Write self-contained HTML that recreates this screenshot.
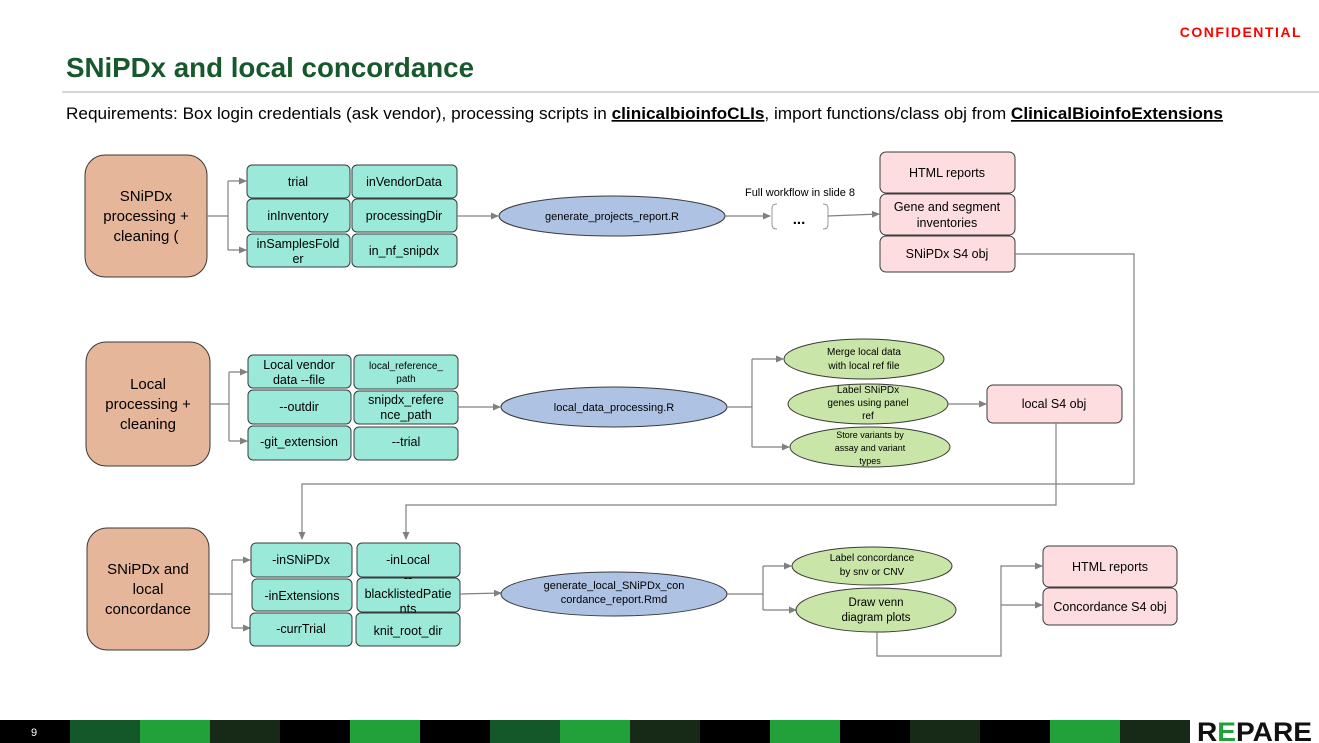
<!DOCTYPE html>
<html><head><meta charset="utf-8"><style>
html,body{margin:0;padding:0;background:#fff;}
svg{display:block;}
text{font-family:"Liberation Sans",sans-serif;fill:#000;}
.sm{font-size:12.5px;}
.xs{font-size:10px;}
.bx{fill:#9be9d9;stroke:#3a3a3a;stroke-width:1;}
.pk{fill:#fddde0;stroke:#3a3a3a;stroke-width:1;}
.bg{fill:#e5b69a;stroke:#3a3a3a;stroke-width:1;}
.el{fill:#aec3e3;stroke:#3a3a3a;stroke-width:1;}
.ge{fill:#c9e5a7;stroke:#3a3a3a;stroke-width:1;}
.ln{fill:none;stroke:#808080;stroke-width:1.2;}
</style></head><body>
<svg width="1319" height="743" viewBox="0 0 1319 743" xmlns="http://www.w3.org/2000/svg">
<defs><marker id="a" markerWidth="8" markerHeight="8" refX="7" refY="4" orient="auto" markerUnits="userSpaceOnUse"><path d="M0,0.5 L8,4 L0,7.5 z" fill="#808080"/></marker></defs>
<text x="1302" y="37" text-anchor="end" style="font-size:14px;font-weight:bold;fill:#ff0000;letter-spacing:1.5px">CONFIDENTIAL</text>
<text x="66" y="77" textLength="408" lengthAdjust="spacingAndGlyphs" style="font-size:28px;font-weight:bold;fill:#17582c">SNiPDx and local concordance</text>
<line x1="62" y1="92" x2="1319" y2="92" stroke="#c0c0c0" stroke-width="1.2"/>
<text x="66" y="119" textLength="1157" lengthAdjust="spacingAndGlyphs" style="font-size:17px">Requirements: Box login credentials (ask vendor), processing scripts in <tspan font-weight="bold" text-decoration="underline">clinicalbioinfoCLIs</tspan>,  import functions/class obj from <tspan font-weight="bold" text-decoration="underline">ClinicalBioinfoExtensions</tspan></text>

<!-- ROW 1 -->
<rect class="bg" x="85" y="155" width="122" height="122" rx="20"/>
<text class="" x="146" y="201" text-anchor="middle" style="font-size:15px">SNiPDx</text>
<text x="146" y="221" text-anchor="middle" style="font-size:15px">processing +</text>
<text x="146" y="241" text-anchor="middle" style="font-size:15px">cleaning (</text>
<path class="ln" d="M207,216 H228 M228,181 V250"/>
<path class="ln" d="M228,181 H246" marker-end="url(#a)"/>
<path class="ln" d="M228,250 H246" marker-end="url(#a)"/>
<rect class="bx" x="247" y="165" width="103" height="33" rx="5"/><text class="sm" x="298" y="186" text-anchor="middle">trial</text>
<rect class="bx" x="352" y="165" width="105" height="33" rx="5"/><text class="sm" x="404" y="186" text-anchor="middle">inVendorData</text>
<rect class="bx" x="247" y="199" width="103" height="33" rx="5"/><text class="sm" x="298" y="220" text-anchor="middle">inInventory</text>
<rect class="bx" x="352" y="199" width="105" height="33" rx="5"/><text class="sm" x="404" y="220" text-anchor="middle">processingDir</text>
<rect class="bx" x="247" y="234" width="103" height="33" rx="5"/><text class="sm" x="298" y="248" text-anchor="middle">inSamplesFold</text><text class="sm" x="298" y="263" text-anchor="middle">er</text>
<rect class="bx" x="352" y="234" width="105" height="33" rx="5"/><text class="sm" x="404" y="255" text-anchor="middle">in_nf_snipdx</text>
<path class="ln" d="M457,216 H498" marker-end="url(#a)"/>
<ellipse class="el" cx="612" cy="216" rx="113" ry="20"/>
<text class="xs" x="612" y="220" text-anchor="middle" style="font-size:11px">generate_projects_report.R</text>
<path class="ln" d="M725,216 H770" marker-end="url(#a)"/>
<text x="800" y="196" text-anchor="middle" style="font-size:11px">Full workflow in slide 8</text>
<path d="M777,204 Q772,204 772,208 V225 Q772,229 777,229 M823,204 Q828,204 828,208 V225 Q828,229 823,229" fill="none" stroke="#999" stroke-width="1"/>
<text x="799" y="224" text-anchor="middle" style="font-size:15px;font-weight:bold">...</text>
<path class="ln" d="M828,216 L879,214" marker-end="url(#a)"/>
<rect class="pk" x="880" y="152" width="135" height="41" rx="6"/><text class="sm" x="947" y="177" text-anchor="middle">HTML reports</text>
<rect class="pk" x="880" y="194" width="135" height="41" rx="6"/><text class="sm" x="947" y="211" text-anchor="middle">Gene and segment</text><text class="sm" x="947" y="227" text-anchor="middle">inventories</text>
<rect class="pk" x="880" y="236" width="135" height="36" rx="6"/><text class="sm" x="947" y="258" text-anchor="middle">SNiPDx S4 obj</text>
<path class="ln" d="M1015,254 H1134 V484 H302 V539" marker-end="url(#a)"/>

<!-- ROW 2 -->
<rect class="bg" x="86" y="342" width="124" height="124" rx="20"/>
<text x="148" y="389" text-anchor="middle" style="font-size:15px">Local</text>
<text x="148" y="409" text-anchor="middle" style="font-size:15px">processing +</text>
<text x="148" y="429" text-anchor="middle" style="font-size:15px">cleaning</text>
<path class="ln" d="M210,404 H229 M229,372 V441"/>
<path class="ln" d="M229,372 H247" marker-end="url(#a)"/>
<path class="ln" d="M229,441 H247" marker-end="url(#a)"/>
<rect class="bx" x="248" y="355" width="103" height="33" rx="5"/><text class="sm" x="299" y="369" text-anchor="middle">Local vendor</text><text class="sm" x="299" y="384" text-anchor="middle">data --file</text>
<rect class="bx" x="354" y="355" width="104" height="34" rx="5"/><text class="xs" x="406" y="369" text-anchor="middle">local_reference_</text><text class="xs" x="406" y="382" text-anchor="middle">path</text>
<rect class="bx" x="248" y="390" width="103" height="34" rx="5"/><text class="sm" x="299" y="411" text-anchor="middle">--outdir</text>
<rect class="bx" x="354" y="391" width="104" height="33" rx="5"/><text class="sm" x="406" y="404" text-anchor="middle">snipdx_refere</text><text class="sm" x="406" y="419" text-anchor="middle">nce_path</text>
<rect class="bx" x="248" y="426" width="103" height="34" rx="5"/><text class="sm" x="299" y="446" text-anchor="middle">-git_extension</text>
<rect class="bx" x="354" y="427" width="104" height="33" rx="5"/><text class="sm" x="406" y="446" text-anchor="middle">--trial</text>
<path class="ln" d="M458,407 H500" marker-end="url(#a)"/>
<ellipse class="el" cx="614" cy="407" rx="113" ry="20"/>
<text x="614" y="411" text-anchor="middle" style="font-size:11px">local_data_processing.R</text>
<path class="ln" d="M727,407 H752 M752,359 V447"/>
<path class="ln" d="M752,359 H783" marker-end="url(#a)"/>
<path class="ln" d="M752,447 H789" marker-end="url(#a)"/>
<ellipse class="ge" cx="864" cy="359" rx="80" ry="20"/><text class="xs" x="864" y="355" text-anchor="middle">Merge local data</text><text class="xs" x="864" y="369" text-anchor="middle">with local ref file</text>
<ellipse class="ge" cx="868" cy="404" rx="80" ry="20"/><text class="xs" x="868" y="393" text-anchor="middle">Label SNiPDx</text><text class="xs" x="868" y="406" text-anchor="middle">genes using panel</text><text class="xs" x="868" y="419" text-anchor="middle">ref</text>
<ellipse class="ge" cx="870" cy="447" rx="80" ry="20"/><text x="870" y="438" text-anchor="middle" style="font-size:9px">Store variants by</text><text x="870" y="451" text-anchor="middle" style="font-size:9px">assay and variant</text><text x="870" y="464" text-anchor="middle" style="font-size:9px">types</text>
<path class="ln" d="M948,404 H986" marker-end="url(#a)"/>
<rect class="pk" x="987" y="385" width="135" height="38" rx="6"/><text class="sm" x="1054" y="408" text-anchor="middle">local S4 obj</text>
<path class="ln" d="M1056,423 V505 H406 V539" marker-end="url(#a)"/>

<!-- ROW 3 -->
<rect class="bg" x="87" y="528" width="122" height="122" rx="20"/>
<text x="148" y="574" text-anchor="middle" style="font-size:15px">SNiPDx and</text>
<text x="148" y="594" text-anchor="middle" style="font-size:15px">local</text>
<text x="148" y="614" text-anchor="middle" style="font-size:15px">concordance</text>
<path class="ln" d="M209,594 H232 M232,560 V628"/>
<path class="ln" d="M232,560 H250" marker-end="url(#a)"/>
<path class="ln" d="M232,628 H250" marker-end="url(#a)"/>
<rect class="bx" x="251" y="543" width="101" height="34" rx="5"/><text class="sm" x="301" y="564" text-anchor="middle">-inSNiPDx</text>
<rect class="bx" x="357" y="543" width="103" height="34" rx="5"/><text class="sm" x="408" y="564" text-anchor="middle">-inLocal</text>
<rect class="bx" x="252" y="579" width="100" height="32" rx="5"/><text class="sm" x="302" y="600" text-anchor="middle">-inExtensions</text>
<rect class="bx" x="357" y="578" width="103" height="34" rx="5"/><text class="sm" x="408" y="582" text-anchor="middle">--</text><text class="sm" x="408" y="598" text-anchor="middle">blacklistedPatie</text><text class="sm" x="408" y="613" text-anchor="middle">nts</text>
<rect class="bx" x="250" y="613" width="102" height="33" rx="5"/><text class="sm" x="301" y="633" text-anchor="middle">-currTrial</text>
<rect class="bx" x="356" y="613" width="104" height="33" rx="5"/><text class="sm" x="408" y="635" text-anchor="middle">knit_root_dir</text>
<path class="ln" d="M460,594 L501,593" marker-end="url(#a)"/>
<ellipse class="el" cx="614" cy="594" rx="113" ry="22"/>
<text x="614" y="589" text-anchor="middle" style="font-size:11px">generate_local_SNiPDx_con</text>
<text x="614" y="603" text-anchor="middle" style="font-size:11px">cordance_report.Rmd</text>
<path class="ln" d="M727,594 H763 M763,566 V610"/>
<path class="ln" d="M763,566 H791" marker-end="url(#a)"/>
<path class="ln" d="M763,610 H796" marker-end="url(#a)"/>
<ellipse class="ge" cx="872" cy="566" rx="80" ry="19"/><text class="xs" x="872" y="561" text-anchor="middle">Label concordance</text><text class="xs" x="872" y="575" text-anchor="middle">by snv or CNV</text>
<ellipse class="ge" cx="876" cy="610" rx="80" ry="22"/><text class="sm" x="876" y="606" text-anchor="middle" style="font-size:11.5px">Draw venn</text><text class="sm" x="876" y="621" text-anchor="middle" style="font-size:11.5px">diagram plots</text>
<path class="ln" d="M877,632 V656 H1001 V566 H1042" marker-end="url(#a)"/>
<path class="ln" d="M1001,605 H1042" marker-end="url(#a)"/>
<rect class="pk" x="1043" y="546" width="134" height="41" rx="6"/><text class="sm" x="1110" y="571" text-anchor="middle">HTML reports</text>
<rect class="pk" x="1043" y="588" width="134" height="37" rx="6"/><text class="sm" x="1110" y="611" text-anchor="middle">Concordance S4 obj</text>

<!-- FOOTER -->
<rect x="0" y="720" width="70" height="23" fill="#000"/>
<rect x="70" y="720" width="70" height="23" fill="#14582a"/>
<rect x="140" y="720" width="70" height="23" fill="#22a03a"/>
<rect x="210" y="720" width="70" height="23" fill="#172a18"/>
<rect x="280" y="720" width="70" height="23" fill="#000"/>
<rect x="350" y="720" width="70" height="23" fill="#22a03a"/>
<rect x="420" y="720" width="70" height="23" fill="#000"/>
<rect x="490" y="720" width="70" height="23" fill="#14582a"/>
<rect x="560" y="720" width="70" height="23" fill="#22a03a"/>
<rect x="630" y="720" width="70" height="23" fill="#172a18"/>
<rect x="700" y="720" width="70" height="23" fill="#000"/>
<rect x="770" y="720" width="70" height="23" fill="#22a03a"/>
<rect x="840" y="720" width="70" height="23" fill="#000"/>
<rect x="910" y="720" width="70" height="23" fill="#172a18"/>
<rect x="980" y="720" width="70" height="23" fill="#000"/>
<rect x="1050" y="720" width="70" height="23" fill="#22a03a"/>
<rect x="1120" y="720" width="70" height="23" fill="#172a18"/>
<text x="34" y="736" text-anchor="middle" style="font-size:11px;fill:#fff">9</text>
<text x="1197" y="741" textLength="115" lengthAdjust="spacingAndGlyphs" style="font-size:27px;font-weight:bold;fill:#111">R<tspan fill="#22a03a">E</tspan>PARE</text>
</svg>
</body></html>
